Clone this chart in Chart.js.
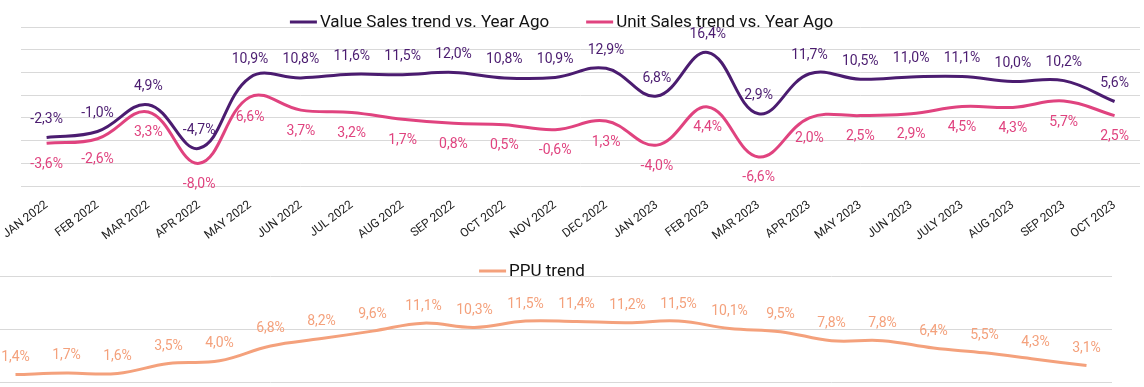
<!DOCTYPE html>
<html>
<head>
<meta charset="utf-8">
<script src="https://cdn.jsdelivr.net/npm/chart.js@4/dist/chart.umd.min.js"></script>
<style>
  html, body { margin: 0; padding: 0; background: #ffffff; overflow: hidden; }
  body { width: 1144px; height: 387px; position: relative; }
  #top { position: absolute; left: 0; top: 0; }
  #bottom { position: absolute; left: -10px; top: 250px; }
</style>
</head>
<body>
<canvas id="top" width="1144" height="250"></canvas>
<canvas id="bottom" width="1122" height="137"></canvas>
<script>
const months = ["JAN 2022","FEB 2022","MAR 2022","APR 2022","MAY 2022","JUN 2022","JUL 2022","AUG 2022","SEP 2022","OCT 2022","NOV 2022","DEC 2022","JAN 2023","FEB 2023","MAR 2023","APR 2023","MAY 2023","JUN 2023","JULY 2023","AUG 2023","SEP 2023","OCT 2023"];
const valueSales = [-2.3, -1.0, 4.9, -4.7, 10.9, 10.8, 11.6, 11.5, 12.0, 10.8, 10.9, 12.9, 6.8, 16.4, 2.9, 11.7, 10.5, 11.0, 11.1, 10.0, 10.2, 5.6];
const unitSales = [-3.6, -2.6, 3.3, -8.0, 6.6, 3.7, 3.2, 1.7, 0.8, 0.5, -0.6, 1.3, -4.0, 4.4, -6.6, 2.0, 2.5, 2.9, 4.5, 4.3, 5.7, 2.5];
const ppu = [1.4, 1.7, 1.6, 3.5, 4.0, 6.8, 8.2, 9.6, 11.1, 10.3, 11.5, 11.4, 11.2, 11.5, 10.1, 9.5, 7.8, 7.8, 6.4, 5.5, 4.3, 3.1];
const seriesNames = ["Value Sales trend vs. Year Ago", "Unit Sales trend vs. Year Ago", "PPU trend"];

const PURPLE = '#4B1C70';
const PINK = '#E0437F';
const SALMON = '#F4A17C';
const GRID = '#D9D9D9';
const FONT = 'Roboto, "Liberation Sans", sans-serif';

const fmt = v => v.toFixed(1).replace('.', ',') + '%';

const labelPlugin = {
  id: 'pctLabels',
  afterDatasetsDraw(chart) {
    const ctx = chart.ctx;
    ctx.save();
    ctx.font = '14px ' + FONT;
    ctx.textAlign = 'center';
    ctx.textBaseline = 'middle';
    chart.data.datasets.forEach((ds, i) => {
      const meta = chart.getDatasetMeta(i);
      const off = ds.labelOffset;
      ctx.fillStyle = ds.labelColor;
      meta.data.forEach((el, j) => {
        ctx.fillText(fmt(ds.data[j]), el.x, el.y + off);
      });
    });
    ctx.restore();
  }
};

const legendPlugin = {
  id: 'ownLegend',
  afterDraw(chart) {
    const ctx = chart.ctx;
    const ca = chart.chartArea;
    ctx.save();
    ctx.font = '17px ' + FONT;
    ctx.textBaseline = 'middle';
    const lineLen = 27, gapLT = 3, itemGap = 37;
    const items = chart.data.datasets.map(ds => ({ text: ds.label, color: ds.borderColor, w: ctx.measureText(ds.label).width }));
    let total = 0;
    items.forEach((it, k) => { total += lineLen + gapLT + it.w + (k ? itemGap : 0); });
    const cx = (ca.left + ca.right) / 2 - 19;
    let x = cx - total / 2;
    const y = ca.top - 5;
    items.forEach((it, k) => {
      if (k) x += itemGap;
      ctx.strokeStyle = it.color;
      ctx.lineWidth = 3;
      ctx.beginPath();
      ctx.moveTo(x, y);
      ctx.lineTo(x + lineLen, y);
      ctx.stroke();
      x += lineLen + gapLT;
      ctx.fillStyle = '#111111';
      ctx.fillText(it.text, x, y + 1);
      x += it.w;
    });
    ctx.restore();
  }
};

Chart.defaults.font.family = FONT;

new Chart(document.getElementById('top'), {
  type: 'line',
  data: {
    labels: months,
    datasets: [
      { label: seriesNames[0], data: valueSales, borderColor: PURPLE, backgroundColor: PURPLE, borderWidth: 3, pointRadius: 0, tension: 0.4, labelColor: PURPLE, labelOffset: -18 },
      { label: seriesNames[1], data: unitSales, borderColor: PINK, backgroundColor: PINK, borderWidth: 3, pointRadius: 0, tension: 0.4, labelColor: PINK, labelOffset: 21 }
    ]
  },
  options: {
    responsive: false,
    animation: false,
    devicePixelRatio: 1,
    layout: { padding: { top: 27, left: 18, right: 4, bottom: 0 } },
    plugins: { legend: { display: false }, tooltip: { enabled: false } },
    scales: {
      x: {
        offset: true,
        grid: { display: false },
        border: { display: false },
        ticks: { autoSkip: false, minRotation: 37, maxRotation: 37, color: '#222222', font: { size: 12 }, padding: 4 },
        afterFit(s) { s.height = 64; }
      },
      y: {
        min: -13, max: 22,
        ticks: { display: false, stepSize: 5 },
        grid: { color: GRID, lineWidth: 1, drawTicks: false },
        border: { display: false },
        afterFit(s) { s.width = 0; }
      }
    }
  },
  plugins: [labelPlugin, legendPlugin]
});

new Chart(document.getElementById('bottom'), {
  type: 'line',
  data: {
    labels: months,
    datasets: [
      { label: seriesNames[2], data: ppu, borderColor: SALMON, backgroundColor: SALMON, borderWidth: 3, pointRadius: 0, tension: 0.4, labelColor: SALMON, labelOffset: -17 }
    ]
  },
  options: {
    responsive: false,
    animation: false,
    devicePixelRatio: 1,
    layout: { padding: { top: 26, left: 0, right: 0, bottom: 5 } },
    plugins: { legend: { display: false }, tooltip: { enabled: false } },
    scales: {
      x: { display: false, offset: true },
      y: {
        min: 0, max: 20,
        ticks: { display: false, stepSize: 10 },
        grid: { color: GRID, lineWidth: 1, drawTicks: false },
        border: { display: false },
        afterFit(s) { s.width = 0; }
      }
    }
  },
  plugins: [labelPlugin, legendPlugin]
});
</script>
</body>
</html>
